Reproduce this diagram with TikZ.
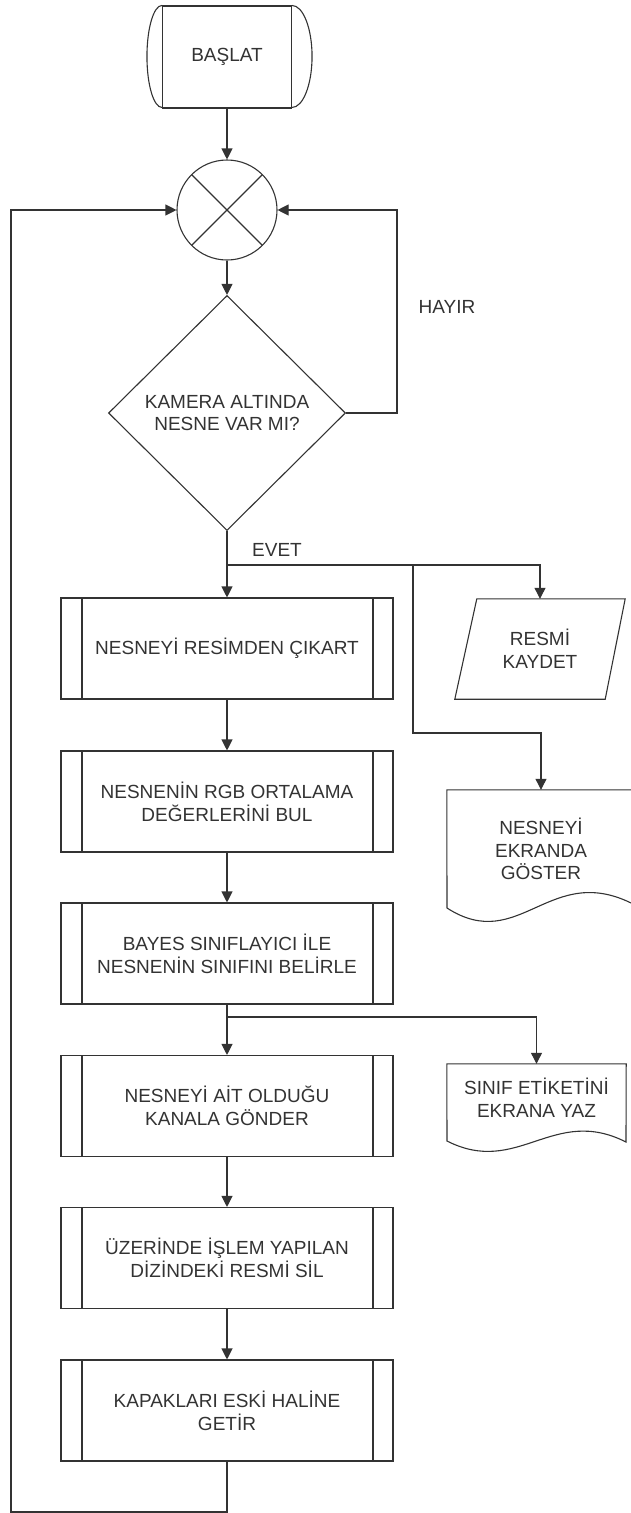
\documentclass[tikz,border=0pt]{standalone}
\usepackage{fontspec}
\setmainfont{Liberation Sans}
\usetikzlibrary{arrows.meta,shapes.geometric,calc}
\definecolor{lncol}{rgb}{0.2,0.2,0.2}
\definecolor{txcol}{rgb}{0.2,0.2,0.2}
\begin{document}
\begin{tikzpicture}[x=1pt,y=-1pt,
  every node/.style={font=\fontsize{19}{22.7}\selectfont, text=txcol, align=center, inner sep=0pt},
  line/.style={draw=lncol, line width=1.1pt},
  arr/.style={line, -{Triangle[length=11pt,width=11pt]}},
  proc/.style={line, rectangle, minimum width=332pt, minimum height=101pt,
    path picture={\draw[line]
      ([xshift=21pt]path picture bounding box.north west) -- ([xshift=21pt]path picture bounding box.south west)
      ([xshift=-20pt]path picture bounding box.north east) -- ([xshift=-20pt]path picture bounding box.south east);}},
  termbox/.style={line, rectangle, minimum width=129pt, minimum height=102pt},
  mergebox/.style={line, circle, minimum size=100pt,
    path picture={\draw[line]
      (path picture bounding box.north west) -- (path picture bounding box.south east)
      (path picture bounding box.north east) -- (path picture bounding box.south west);}},
  decision/.style={line, diamond, minimum width=237pt, minimum height=235pt},
  plain/.style={rectangle}
]
\useasboundingbox (0,0) rectangle (630,1513);

% start terminal
\node[termbox] (start) at (227,57) {BAŞLAT};
\draw[line] (start.north west) arc[start angle=90,end angle=270,x radius=15pt,y radius=51pt];
\draw[line] (start.north east) arc[start angle=90,end angle=-90,x radius=20pt,y radius=51pt];

% merge
\node[mergebox] (merge) at (227,210) {};

% decision
\node[decision] (q) at (227,413) {KAMERA ALTINDA\\NESNE VAR MI?};
\node (hayir) at (447,307) {HAYIR};
\node (evet) at (277,550) {EVET};

% processes
\node[proc] (p1) at (227,648.5) {NESNEYİ RESİMDEN ÇIKART};
\node[proc] (p2) at (227,801.5) {NESNENİN RGB ORTALAMA\\DEĞERLERİNİ BUL};
\node[proc] (p3) at (227,953.5) {BAYES SINIFLAYICI İLE\\NESNENİN SINIFINI BELİRLE};
\node[proc] (p4) at (227,1106) {NESNEYİ AİT OLDUĞU\\KANALA GÖNDER};
\node[proc] (p5) at (227,1258) {ÜZERİNDE İŞLEM YAPILAN\\DİZİNDEKİ RESMİ SİL};
\node[proc] (p6) at (227,1410.5) {KAPAKLARI ESKİ HALİNE\\GETİR};

% data (parallelogram)
\node[plain, minimum width=170pt, minimum height=100pt] (save) at (540,649) {RESMİ\\KAYDET};
\draw[line] ([xshift=22pt]save.north west) -- (save.north east) -- ([xshift=-20pt]save.south east) -- (save.south west) -- cycle;

% documents
\node[plain, minimum width=188pt, minimum height=118pt] (show) at (541,849) {NESNEYİ\\EKRANDA\\GÖSTER};
\draw[line] (447,908) -- (show.north west) -- (show.north east) -- (635,905)
  .. controls (550,860) and (520,955) .. (447,908);

\node[plain, minimum width=179pt, minimum height=67pt] (lbl) at (536.5,1097.5) {SINIF ETİKETİNİ\\EKRANA YAZ};
\draw[line] (lbl.north west) -- (lbl.north east) -- (626,1142)
  .. controls (553,1105) and (518,1177) .. (447,1141) -- cycle;

% junctions
\coordinate (j1) at (227,565);
\coordinate (j2) at (413,565);
\coordinate (j3) at (227,1017);
\coordinate (hr) at (397,413);
\coordinate (lp) at (11,1512);

% connectors
\draw[arr] (start.south) -- (merge.north);
\draw[arr] (merge.south) -- (q.north);
\draw[arr] (q.east) -- (hr) |- (merge.east);
\draw[arr] (q.south) -- (p1.north);
\draw[arr] (j1) -| (save.north);
\draw[arr] (j2) |- (541,733) -- (show.north);
\draw[arr] (p1.south) -- (p2.north);
\draw[arr] (p2.south) -- (p3.north);
\draw[arr] (p3.south) -- (p4.north);
\draw[arr] (j3) -| (lbl.north);
\draw[arr] (p4.south) -- (p5.north);
\draw[arr] (p5.south) -- (p6.north);
\draw[arr] (p6.south) |- (lp) |- (merge.west);
\end{tikzpicture}
\end{document}
